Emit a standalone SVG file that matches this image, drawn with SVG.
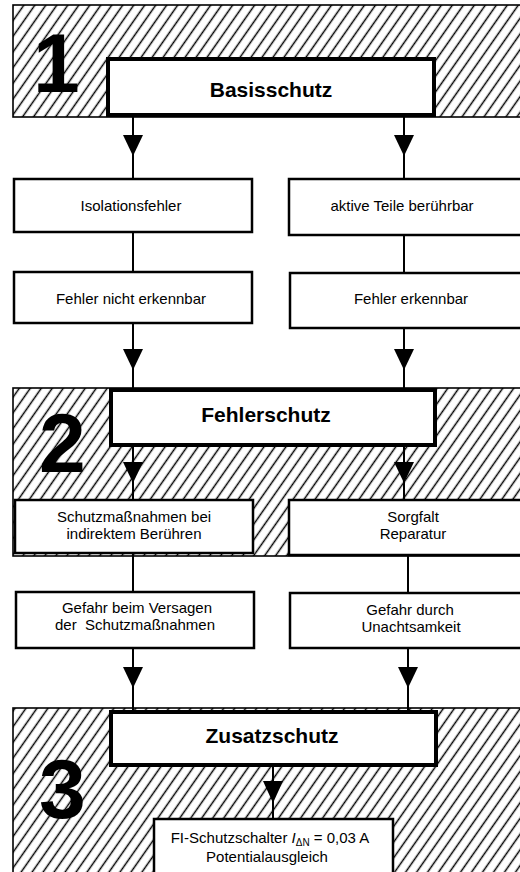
<svg xmlns="http://www.w3.org/2000/svg" width="520" height="872" viewBox="0 0 520 872">
<defs>
<pattern id="hatch" patternUnits="userSpaceOnUse" width="9" height="9" patternTransform="rotate(35)">
<rect width="9" height="9" fill="#fff"/>
<line x1="4.5" y1="0" x2="4.5" y2="9" stroke="#000" stroke-width="1.5"/>
</pattern>
</defs>
<style>
.zone{fill:url(#hatch);stroke:#000;stroke-width:1.6}
.main{fill:#fff;stroke:#000;stroke-width:4}
.box{fill:#fff;stroke:#000;stroke-width:2.5}
.num{font-family:"Liberation Sans",Arial,sans-serif;font-weight:bold;font-size:84px;fill:#000}
.tb{font-family:"Liberation Sans",Arial,sans-serif;font-weight:bold;font-size:21px;fill:#000;text-anchor:middle}
.t{font-family:"Liberation Sans",Arial,sans-serif;font-size:15px;fill:#000;text-anchor:middle;white-space:pre}
.c{stroke:#000;stroke-width:2;fill:none}
.ah{fill:#000}
</style>
<rect width="520" height="872" fill="#fff"/>
<g id="zone1"><rect class="zone" x="13" y="5" width="515" height="112"/><text class="num" x="33" y="92">1</text></g>
<g id="zone2"><rect class="zone" x="13" y="388" width="515" height="168"/><text class="num" x="39" y="472">2</text></g>
<g id="zone3"><rect class="zone" x="13" y="708" width="515" height="170"/><text class="num" x="39" y="818">3</text></g>
<g id="connectors">
<line class="c" x1="133" y1="117" x2="133" y2="179"/>
<path class="ah" d="M123,135 L143,135 L133,156 Z"/>
<line class="c" x1="404" y1="117" x2="404" y2="179"/>
<path class="ah" d="M394,135 L414,135 L404,156 Z"/>
<line class="c" x1="133" y1="232" x2="133" y2="272"/>
<line class="c" x1="404" y1="235" x2="404" y2="273"/>
<line class="c" x1="133" y1="323" x2="133" y2="390"/>
<path class="ah" d="M123,349 L143,349 L133,370 Z"/>
<line class="c" x1="404" y1="328" x2="404" y2="390"/>
<path class="ah" d="M394,349 L414,349 L404,370 Z"/>
<line class="c" x1="133" y1="445" x2="133" y2="500"/>
<path class="ah" d="M123,462 L143,462 L133,483 Z"/>
<line class="c" x1="404" y1="445" x2="404" y2="500"/>
<path class="ah" d="M394,462 L414,462 L404,483 Z"/>
<line class="c" x1="133" y1="553" x2="133" y2="592"/>
<line class="c" x1="408" y1="555" x2="408" y2="593"/>
<line class="c" x1="133" y1="648" x2="133" y2="712"/>
<path class="ah" d="M123,667 L143,667 L133,688 Z"/>
<line class="c" x1="408" y1="648" x2="408" y2="712"/>
<path class="ah" d="M398,667 L418,667 L408,688 Z"/>
<line class="c" x1="273" y1="765" x2="273" y2="818"/>
<path class="ah" d="M263,781 L283,781 L273,803 Z"/>
</g>
<g id="basisschutz"><rect class="main" x="108" y="59" width="326" height="56"/><text class="tb" x="271" y="97">Basisschutz</text></g>
<g id="isolationsfehler"><rect class="box" x="14" y="179" width="238" height="53"/><text class="t" x="131" y="211">Isolationsfehler</text></g>
<g id="aktive"><rect class="box" x="289" y="179" width="240" height="56"/><text class="t" x="402" y="211">aktive Teile berührbar</text></g>
<g id="nichterkennbar"><rect class="box" x="14" y="272" width="238" height="51"/><text class="t" x="131" y="304">Fehler nicht erkennbar</text></g>
<g id="erkennbar"><rect class="box" x="290" y="273" width="240" height="55"/><text class="t" x="411" y="304">Fehler erkennbar</text></g>
<g id="fehlerschutz"><rect class="main" x="111" y="390" width="324" height="55"/><text class="tb" x="266" y="422">Fehlerschutz</text></g>
<g id="schutzmassnahmen"><rect class="box" x="15" y="500" width="238" height="53"/><text class="t" x="134" y="522">Schutzmaßnahmen bei</text><text class="t" x="134" y="539">indirektem Berühren</text></g>
<g id="sorgfalt"><rect class="box" x="289" y="500" width="240" height="55"/><text class="t" x="413" y="522">Sorgfalt</text><text class="t" x="413" y="539">Reparatur</text></g>
<g id="versagen"><rect class="box" x="16" y="592" width="238" height="56"/><text class="t" x="137" y="613">Gefahr beim Versagen</text><text class="t" x="135" y="630">der  Schutzmaßnahmen</text></g>
<g id="unachtsamkeit"><rect class="box" x="290" y="593" width="240" height="55"/><text class="t" x="410" y="615">Gefahr durch</text><text class="t" x="411" y="632">Unachtsamkeit</text></g>
<g id="zusatzschutz"><rect class="main" x="111" y="712" width="325" height="53"/><text class="tb" x="272" y="743">Zusatzschutz</text></g>
<g id="fischalter"><rect class="box" x="154" y="819" width="239" height="60"/><text class="t" x="270" y="843">FI-Schutzschalter <tspan font-style="italic">I</tspan><tspan font-size="10" dy="3">ΔN</tspan><tspan dy="-3"> = 0,03 A</tspan></text><text class="t" x="267" y="862">Potentialausgleich</text></g>
</svg>
